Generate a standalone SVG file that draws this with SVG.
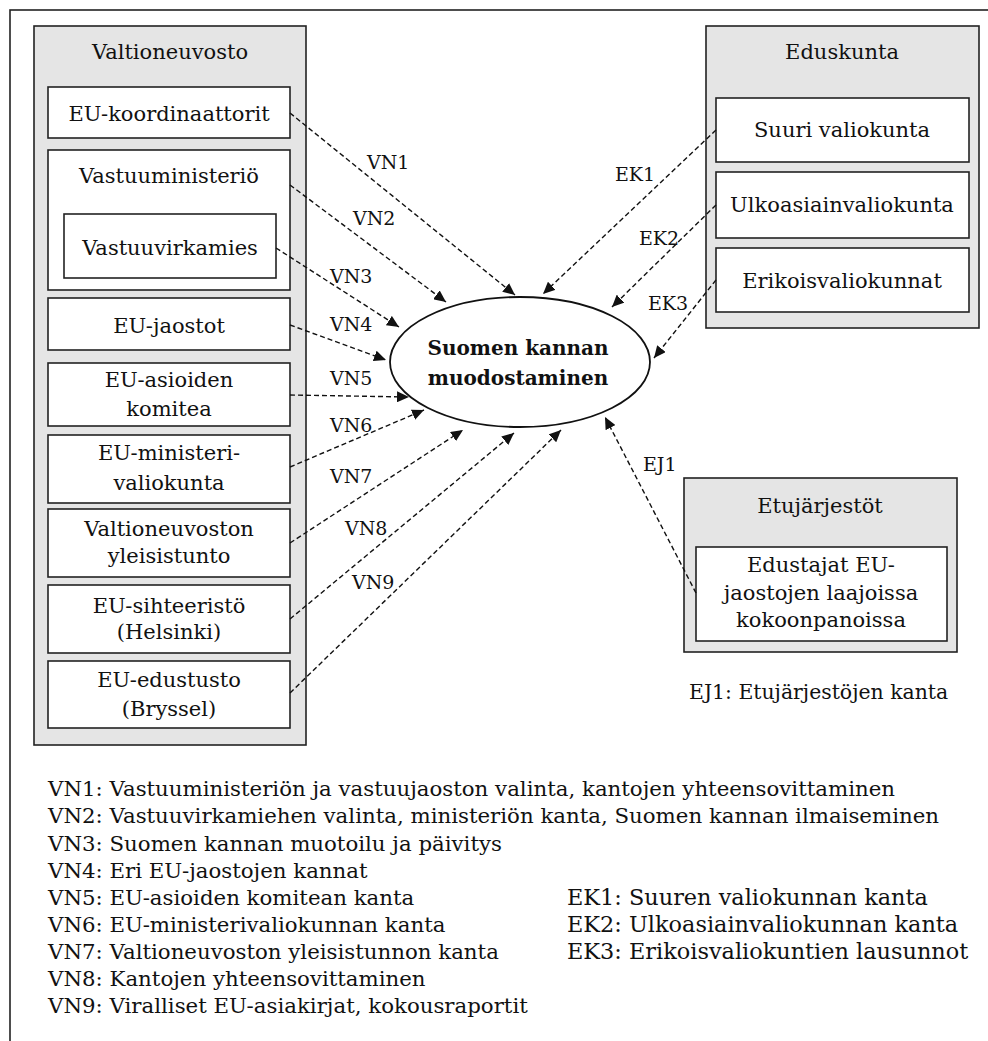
<svg xmlns="http://www.w3.org/2000/svg" width="988" height="1041" viewBox="0 0 988 1041">
<style>
text{font-family:"DejaVu Serif","Liberation Serif",serif;fill:#111;}
.t{font-size:21px;text-anchor:middle;}
.lbl{font-size:19px;}
.leg{font-size:21.3px;}
.grp{fill:#e5e5e5;stroke:#222;stroke-width:1.6;}
.box{fill:#fff;stroke:#222;stroke-width:1.6;}
.con{fill:none;stroke:#111;stroke-width:1.4;stroke-dasharray:5 3;marker-end:url(#ah);}
</style>
<defs>
<marker id="ah" markerUnits="userSpaceOnUse" markerWidth="13" markerHeight="11" refX="12" refY="5.5" orient="auto">
<path d="M0,0 L12,5.5 L0,11 z" fill="#111"/>
</marker>
</defs>
<rect x="10" y="10" width="1010" height="1080" fill="#fff" stroke="#222" stroke-width="1.6"/>

<g id="valtioneuvosto">
<rect class="grp" x="34" y="26" width="272" height="719"/>
<text class="t" x="170" y="59">Valtioneuvosto</text>
</g>
<g id="eu-koordinaattorit">
<rect class="box" x="48" y="87" width="242" height="51"/>
<text class="t" x="169" y="121">EU-koordinaattorit</text>
</g>
<g id="vastuuministerio">
<rect class="box" x="48" y="150" width="242" height="140"/>
<text class="t" x="169" y="183">Vastuuministeriö</text>
</g>
<g id="vastuuvirkamies">
<rect class="box" x="64" y="214" width="212" height="64"/>
<text class="t" x="170" y="255">Vastuuvirkamies</text>
</g>
<g id="eu-jaostot">
<rect class="box" x="48" y="298" width="242" height="52"/>
<text class="t" x="169" y="333">EU-jaostot</text>
</g>
<g id="eu-asioiden-komitea">
<rect class="box" x="48" y="363" width="242" height="63"/>
<text class="t" x="169" y="387">EU-asioiden</text>
<text class="t" x="169" y="416">komitea</text>
</g>
<g id="eu-ministerivaliokunta">
<rect class="box" x="48" y="435" width="242" height="68"/>
<text class="t" x="169" y="460">EU-ministeri-</text>
<text class="t" x="169" y="490">valiokunta</text>
</g>
<g id="yleisistunto">
<rect class="box" x="48" y="509" width="242" height="68"/>
<text class="t" x="169" y="536">Valtioneuvoston</text>
<text class="t" x="169" y="563">yleisistunto</text>
</g>
<g id="eu-sihteeristo">
<rect class="box" x="48" y="585" width="242" height="68"/>
<text class="t" x="169" y="613">EU-sihteeristö</text>
<text class="t" x="169" y="639">(Helsinki)</text>
</g>
<g id="eu-edustusto">
<rect class="box" x="48" y="661" width="242" height="67"/>
<text class="t" x="169" y="687">EU-edustusto</text>
<text class="t" x="169" y="716">(Bryssel)</text>
</g>

<g id="eduskunta">
<rect class="grp" x="706" y="26" width="273" height="302"/>
<text class="t" x="842" y="59">Eduskunta</text>
</g>
<g id="suuri-valiokunta">
<rect class="box" x="716" y="98" width="253" height="64"/>
<text class="t" x="842" y="137">Suuri valiokunta</text>
</g>
<g id="ulkoasiainvaliokunta">
<rect class="box" x="716" y="172" width="253" height="66"/>
<text class="t" x="842" y="212">Ulkoasiainvaliokunta</text>
</g>
<g id="erikoisvaliokunnat">
<rect class="box" x="716" y="248" width="253" height="64"/>
<text class="t" x="842" y="288">Erikoisvaliokunnat</text>
</g>

<g id="etujarjestot">
<rect class="grp" x="684" y="478" width="273" height="174"/>
<text class="t" x="820" y="513">Etujärjestöt</text>
</g>
<g id="edustajat">
<rect class="box" x="696" y="547" width="251" height="94"/>
<text class="t" x="821" y="572">Edustajat EU-</text>
<text class="t" x="821" y="600">jaostojen laajoissa</text>
<text class="t" x="821" y="627">kokoonpanoissa</text>
</g>

<g id="suomen-kanta">
<ellipse cx="520" cy="362" rx="130" ry="65" fill="#fff" stroke="#111" stroke-width="1.8"/>
<text class="t" x="518" y="355" style="font-size:20px;font-weight:bold">Suomen kannan</text>
<text class="t" x="518" y="385" style="font-size:20px;font-weight:bold">muodostaminen</text>
</g>

<g id="connectors">
<path class="con" d="M290,113 L515,295"/>
<path class="con" d="M290,185 L446,302"/>
<path class="con" d="M276,248 L399,327"/>
<path class="con" d="M290,325 L386,360"/>
<path class="con" d="M290,395 L409,397"/>
<path class="con" d="M290,467 L424,410"/>
<path class="con" d="M290,543 L463,430"/>
<path class="con" d="M290,619 L514,433"/>
<path class="con" d="M290,693 L561,430"/>
<path class="con" d="M716,130 L543,294"/>
<path class="con" d="M716,205 L612,307"/>
<path class="con" d="M716,280 L654,358"/>
<path class="con" d="M696,593 L605,417"/>
<text class="lbl" x="367" y="169">VN1</text>
<text class="lbl" x="353" y="225">VN2</text>
<text class="lbl" x="330" y="283">VN3</text>
<text class="lbl" x="330" y="331">VN4</text>
<text class="lbl" x="330" y="385">VN5</text>
<text class="lbl" x="330" y="432">VN6</text>
<text class="lbl" x="330" y="483">VN7</text>
<text class="lbl" x="345" y="535">VN8</text>
<text class="lbl" x="352" y="589">VN9</text>
<text class="lbl" x="615" y="181">EK1</text>
<text class="lbl" x="639" y="245">EK2</text>
<text class="lbl" x="648" y="310">EK3</text>
<text class="lbl" x="643" y="471">EJ1</text>
</g>

<g id="legend">
<text class="leg" x="689" y="699" style="font-size:20.4px">EJ1: Etujärjestöjen kanta</text>
<text class="leg" x="48" y="796">VN1: Vastuuministeriön ja vastuujaoston valinta, kantojen yhteensovittaminen</text>
<text class="leg" x="48" y="823">VN2: Vastuuvirkamiehen valinta, ministeriön kanta, Suomen kannan ilmaiseminen</text>
<text class="leg" x="48" y="851">VN3: Suomen kannan muotoilu ja päivitys</text>
<text class="leg" x="48" y="878">VN4: Eri EU-jaostojen kannat</text>
<text class="leg" x="48" y="905">VN5: EU-asioiden komitean kanta</text>
<text class="leg" x="48" y="932">VN6: EU-ministerivaliokunnan kanta</text>
<text class="leg" x="48" y="959">VN7: Valtioneuvoston yleisistunnon kanta</text>
<text class="leg" x="48" y="986">VN8: Kantojen yhteensovittaminen</text>
<text class="leg" x="48" y="1013">VN9: Viralliset EU-asiakirjat, kokousraportit</text>
<text class="leg" x="567" y="905" style="font-size:22.4px">EK1: Suuren valiokunnan kanta</text>
<text class="leg" x="567" y="932" style="font-size:22.4px">EK2: Ulkoasiainvaliokunnan kanta</text>
<text class="leg" x="567" y="959" style="font-size:22.4px">EK3: Erikoisvaliokuntien lausunnot</text>
</g>
</svg>
